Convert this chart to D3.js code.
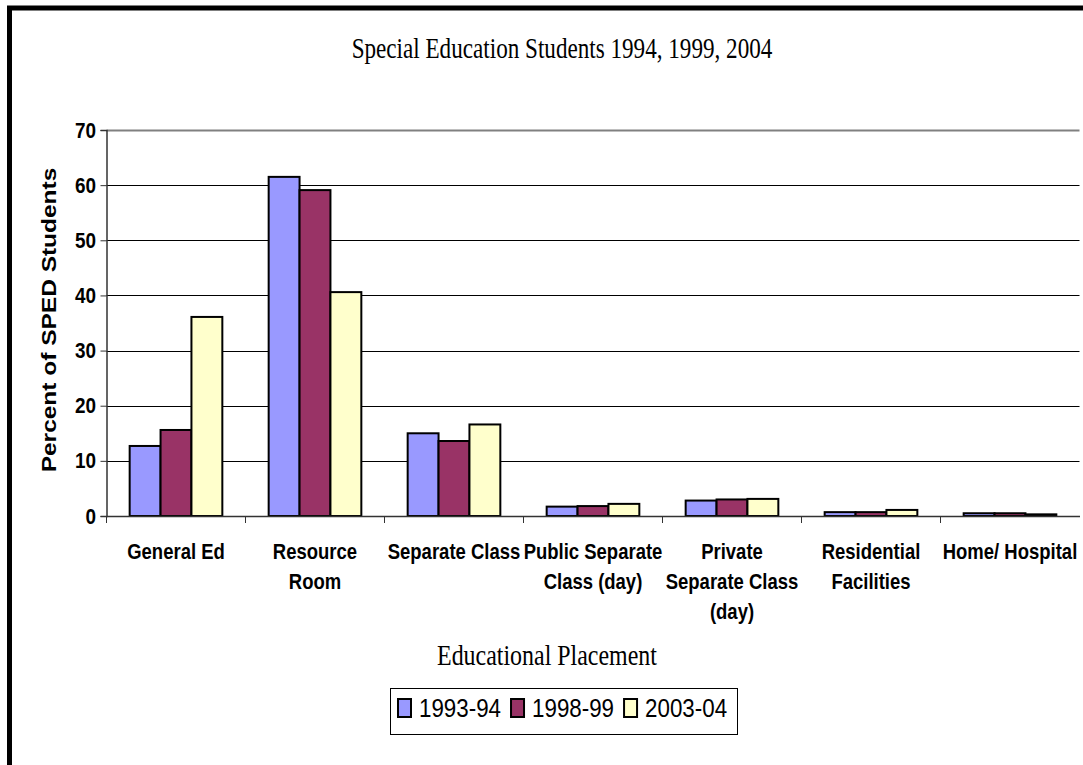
<!DOCTYPE html>
<html>
<head>
<meta charset="utf-8">
<script src="https://cdn.jsdelivr.net/npm/d3@7"></script>
<style>
  html, body { margin: 0; padding: 0; background: #fff; }
  svg { display: block; }
</style>
</head>
<body>
<div id="chart"></div>
<script>
// Valores
const categories = ["General Ed", "Resource Room", "Separate Class", "Public Separate Class (day)",
  "Private Separate Class (day)", "Residential Facilities", "Home/ Hospital"];
const categoryLines = [["General Ed"], ["Resource", "Room"], ["Separate Class"], ["Public Separate", "Class (day)"],
  ["Private", "Separate Class", "(day)"], ["Residential", "Facilities"], ["Home/ Hospital"]];
const series = ["1993-94", "1998-99", "2003-04"];
const values1993 = [12.7, 61.5, 15.0, 1.7, 2.8, 0.7, 0.5];
const values1998 = [15.6, 59.1, 13.6, 1.8, 3.0, 0.7, 0.5];
const values2003 = [36.1, 40.6, 16.6, 2.2, 3.1, 1.1, 0.3];
const yTicks = [0, 10, 20, 30, 40, 50, 60, 70];
const colors = ["#9999ff", "#993366", "#ffffcc"];

const width = 1083, height = 765;
const plot = { left: 106.5, right: 1079.5, top: 130, bottom: 516 };
const squeeze = 0.86; // el original está comprimido en horizontal

const svg = d3.select("#chart").append("svg")
  .attr("width", width).attr("height", height);

// Borde del área del gráfico
svg.append("path")
  .attr("d", `M9.5,${height + 10} V8 H${width + 10}`)
  .attr("fill", "none").attr("stroke", "#000").attr("stroke-width", 5);

const x0 = d3.scaleBand().domain(categories).range([plot.left, plot.right]).padding(0);
const bw = x0.bandwidth();
const barW = bw / 4.5;
const x1 = d3.scaleBand().domain(series).range([barW * 0.75, bw - barW * 0.75]).padding(0);
const y = d3.scaleLinear().domain([0, 70]).range([plot.bottom, plot.top]);

function label(sel, x, yy, txt, font, opts = {}) {
  const t = sel.append("text")
    .attr("text-anchor", "middle")
    .style("font", font)
    .attr("fill", "#000")
    .text(txt);
  let k = squeeze;
  if (opts.fitWidth) k = opts.fitWidth / t.node().getComputedTextLength();
  t.attr("transform", `translate(${x},${yy}) scale(${k},1)` + (opts.rotate ? " rotate(-90)" : ""));
  return t;
}

// Líneas de cuadrícula
svg.append("g").selectAll("line")
  .data(yTicks.filter(d => d > 0)).enter().append("line")
  .attr("x1", plot.left).attr("x2", plot.right)
  .attr("y1", d => Math.round(y(d)) + 0.5).attr("y2", d => Math.round(y(d)) + 0.5)
  .attr("stroke", d => d === 70 ? "#808080" : "#000")
  .attr("stroke-width", d => d === 70 ? 2 : 1);

// Eje Y
const yAxis = svg.append("g")
  .attr("transform", `translate(${plot.left},0)`)
  .call(d3.axisLeft(y).tickValues(yTicks).tickSize(6).tickFormat(""));
yAxis.select(".domain").attr("stroke", "#333").attr("stroke-width", 1.5);
yAxis.selectAll(".tick line").attr("stroke", "#333");

yTicks.forEach(t => {
  svg.append("text")
    .attr("transform", `translate(96,${y(t) + 7.5}) scale(${squeeze},1)`)
    .attr("text-anchor", "end")
    .style("font", "bold 22px 'Liberation Sans', Arial, sans-serif")
    .text(t);
});

// Barras
const seriesValues = [values1993, values1998, values2003];
series.forEach((s, si) => {
  svg.append("g").selectAll("rect")
    .data(categories).enter().append("rect")
    .attr("x", (c) => x0(c) + x1(s))
    .attr("y", (c, i) => y(seriesValues[si][i]))
    .attr("width", x1.bandwidth())
    .attr("height", (c, i) => y(0) - y(seriesValues[si][i]))
    .attr("fill", colors[si])
    .attr("stroke", "#000")
    .attr("stroke-width", 2);
});

// Eje X
const xAxis = svg.append("g")
  .attr("transform", `translate(0,${plot.bottom})`)
  .call(d3.axisBottom(x0).tickSize(0).tickFormat(""));
xAxis.select(".domain").attr("stroke", "#333").attr("stroke-width", 1.5);
svg.append("g").selectAll("line")
  .data(categories).enter().append("line")
  .attr("x1", c => x0(c)).attr("x2", c => x0(c))
  .attr("y1", plot.bottom).attr("y2", plot.bottom + 7)
  .attr("stroke", "#333");

categories.forEach((c, i) => {
  categoryLines[i].forEach((line, li) => {
    label(svg, x0(c) + bw / 2, 559 + li * 30, line, "bold 21.5px 'Liberation Sans', Arial, sans-serif");
  });
});

// Títulos
label(svg, 562, 58, "Special Education Students 1994, 1999, 2004", "29px 'Liberation Serif', 'Times New Roman', serif", { fitWidth: 421 });
label(svg, 547, 665, "Educational Placement", "29px 'Liberation Serif', 'Times New Roman', serif", { fitWidth: 220 });
label(svg, 56, 320, "Percent of SPED Students", "bold 24.5px 'Liberation Sans', Arial, sans-serif", { rotate: true });

// Leyenda
const legend = svg.append("g");
legend.append("rect")
  .attr("x", 390.5).attr("y", 688.5).attr("width", 347).attr("height", 46)
  .attr("fill", "#fff").attr("stroke", "#000").attr("stroke-width", 1);
let lx = 398;
series.forEach((s, i) => {
  legend.append("rect")
    .attr("x", lx).attr("y", 699).attr("width", 13).attr("height", 18)
    .attr("fill", colors[i]).attr("stroke", "#000").attr("stroke-width", 2);
  const t = legend.append("text")
    .attr("transform", `translate(${lx + 21},717) scale(${squeeze},1)`)
    .style("font", "26px 'Liberation Sans', Arial, sans-serif")
    .text(s);
  lx += 21 + t.node().getComputedTextLength() * squeeze + 10;
});
</script>
</body>
</html>
